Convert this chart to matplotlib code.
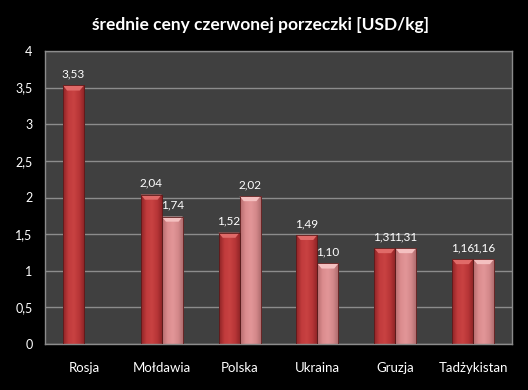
import numpy as np
import matplotlib
matplotlib.use("Agg")
import matplotlib.pyplot as plt
from matplotlib.colors import LinearSegmentedColormap

categories = ["Rosja", "Mołdawia", "Polska", "Ukraina", "Gruzja", "Tadżykistan"]
series1 = [3.53, 2.04, 1.52, 1.49, 1.31, 1.16]
series2 = [np.nan, 1.74, 2.02, 1.10, 1.31, 1.16]
labels1 = ["3,53", "2,04", "1,52", "1,49", "1,31", "1,16"]
labels2 = ["", "1,74", "2,02", "1,10", "1,31", "1,16"]
yticks = [0, 0.5, 1, 1.5, 2, 2.5, 3, 3.5, 4]
ytick_labels = ["0", "0,5", "1", "1,5", "2", "2,5", "3", "3,5", "4"]
title = "średnie ceny czerwonej porzeczki [USD/kg]"

plt.rcParams['font.family'] = ['Lato', 'DejaVu Sans']

fig = plt.figure(figsize=(5.28, 3.90), dpi=100, facecolor="black")
ax = fig.add_axes([45/528, 1-344/390, (512-45)/528, (344-51)/390])
ax.set_facecolor("#404040")
for s in ax.spines.values():
    s.set_color("#8c8c8c")
    s.set_linewidth(1.0)

x = np.arange(len(categories))
w = 0.27

ax.set_xlim(-0.5, len(categories) - 0.5)
ax.set_ylim(0, 4)
ax.set_yticks(yticks)
ax.set_yticklabels(ytick_labels, color="white", fontsize=9)
ax.set_xticks(x)
ax.set_xticklabels(categories, color="white", fontsize=9.5)
ax.tick_params(axis="x", length=0, pad=13)
ax.tick_params(axis="y", length=0, pad=9)
ax.yaxis.grid(True, color="#8c8c8c", linewidth=1.0)
ax.set_axisbelow(True)

cmap_dark = LinearSegmentedColormap.from_list("d", ["#8e2426", "#c13b3c", "#c84242", "#b73537", "#8a2224"])
cmap_light = LinearSegmentedColormap.from_list("l", ["#b36a6c", "#db8c8e", "#e29698", "#d3888a", "#a9686a"])
grad = np.linspace(0, 1, 64).reshape(1, -1)

def draw_bars(xs, vals, cmap, top_col):
    bars = ax.bar(xs, vals, width=w, color="none", edgecolor="#5a1a1a", linewidth=0.6, zorder=3)
    for b, v in zip(bars, vals):
        if np.isnan(v):
            continue
        x0, bw, h = b.get_x(), b.get_width(), b.get_height()
        im = ax.imshow(grad, extent=[x0, x0 + bw, 0, h], aspect="auto", cmap=cmap, zorder=2.5)
        im.set_clip_path(b)
        bh = 0.07
        ax.fill([x0, x0 + bw, x0 + bw * 0.8, x0 + bw * 0.2], [h, h, h - bh, h - bh],
                color=top_col, zorder=2.8, linewidth=0)
    return bars

draw_bars(x - w / 2, series1, cmap_dark, "#e06a68")
draw_bars(x + w / 2, series2, cmap_light, "#f4c0c0")

for xi, v, lab in zip(x - w / 2, series1, labels1):
    if not np.isnan(v):
        ax.text(xi, v + 0.08, lab, ha="center", va="bottom", color="white", fontsize=8.5, zorder=5)
for xi, v, lab in zip(x + w / 2, series2, labels2):
    if not np.isnan(v):
        ax.text(xi, v + 0.08, lab, ha="center", va="bottom", color="white", fontsize=8.5, zorder=5)

fig.text(260/528, 1-25/390, title, ha="center", va="center", color="white",
         fontsize=12.5, fontweight="bold")

fig.savefig("out.png", dpi=100, facecolor="black")
